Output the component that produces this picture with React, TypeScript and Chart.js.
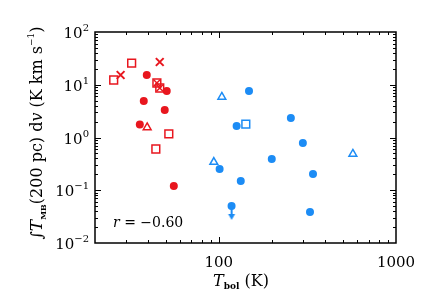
import { useEffect, useRef } from 'react';
import { Chart, registerables } from 'chart.js';

Chart.register(...registerables);

// ---- data (T_bol in K, integrated intensity in K km/s) ----
const redCircleX = [39.2, 50.8, 37.7, 49.5, 35.8, 55.7];
const redCircleY = [15.3, 7.61, 4.92, 3.32, 1.76, 0.12];
const redSquareX = [25.5, 32.2, 44.7, 46.4, 52.2, 44.1];
const redSquareY = [12.3, 25.8, 10.8, 8.68, 1.17, 0.605];
const redCrossX = [27.9, 46.4];
const redCrossY = [15.3, 27.0];
const redInnerCrossX = [44.7, 46.4];
const redInnerCrossY = [10.8, 8.68];
const redTriangleX = [39.4];
const redTriangleY = [1.55];

const blueCircleX = [148, 126, 255, 298, 101, 133, 118, 199, 340, 327];
const blueCircleY = [7.61, 1.65, 2.34, 0.787, 0.253, 0.15, 0.0503, 0.391, 0.203, 0.0387];
const blueSquareX = [142];
const blueSquareY = [1.8];
const blueTriangleX = [104, 93.7, 571];
const blueTriangleY = [5.86, 0.343, 0.487];
const blueLimitX = [118];
const blueLimitY = [0.0503];

const xMajor = [100, 1000];
const xTickLabels = ['100', '1000'];
const yMajor = [0.01, 0.1, 1, 10, 100];
const yExponents = ['\u22122', '\u22121', '0', '1', '2'];
const corrText = '\u22120.60';

const RED = 'rgb(232,22,30)';
const BLUE = 'rgb(28,140,245)';
const SERIF = '"DejaVu Serif", "Liberation Serif", serif';

function pts(xs: number[], ys: number[]) {
  return xs.map((x, i) => ({ x, y: ys[i] }));
}

function makeArrow(color: string): HTMLCanvasElement {
  const c = document.createElement('canvas');
  c.width = 12;
  c.height = 34;
  const g = c.getContext('2d')!;
  g.strokeStyle = color;
  g.fillStyle = color;
  g.lineWidth = 2;
  g.beginPath();
  g.moveTo(6, 16);
  g.lineTo(6, 28);
  g.stroke();
  g.beginPath();
  g.moveTo(2.5, 25);
  g.lineTo(9.5, 25);
  g.lineTo(6, 31);
  g.closePath();
  g.fill();
  return c;
}

type Seg = { t: string; font: string; dy: number };

function drawSegs(ctx: CanvasRenderingContext2D, x: number, y: number, segs: Seg[], align: 'left' | 'center' | 'right') {
  let w = 0;
  for (const s of segs) {
    ctx.font = s.font;
    w += ctx.measureText(s.t).width;
  }
  let cx = align === 'right' ? x - w : align === 'center' ? x - w / 2 : x;
  ctx.textAlign = 'left';
  for (const s of segs) {
    ctx.font = s.font;
    ctx.fillText(s.t, cx, y + s.dy);
    cx += ctx.measureText(s.t).width;
  }
}

const framePlugin = {
  id: 'frame',
  afterDraw(chart: any) {
    const ctx: CanvasRenderingContext2D = chart.ctx;
    const { left, right, top, bottom } = chart.chartArea;
    const xs = chart.scales.x;
    const ys = chart.scales.y;
    ctx.save();
    ctx.strokeStyle = '#000';
    ctx.fillStyle = '#000';
    ctx.lineWidth = 1.5;
    ctx.strokeRect(left, top, right - left, bottom - top);

    ctx.lineWidth = 1;
    // x ticks
    for (let d = 10; d < 1000; d *= 10) {
      for (let m = 1; m <= 9; m++) {
        const v = d * m;
        if (v <= 20 || v >= 1000) continue;
        const px = Math.round(xs.getPixelForValue(v)) + 0.5;
        const len = m === 1 ? 6 : 3;
        ctx.beginPath();
        ctx.moveTo(px, bottom);
        ctx.lineTo(px, bottom - len);
        ctx.moveTo(px, top);
        ctx.lineTo(px, top + len);
        ctx.stroke();
      }
    }
    // y ticks
    for (let d = 0.01; d < 100; d *= 10) {
      for (let m = 1; m <= 9; m++) {
        const v = d * m;
        if (v <= 0.0100001 || v >= 99.999) continue;
        const py = Math.round(ys.getPixelForValue(v)) + 0.5;
        const len = m === 1 ? 6 : 3;
        ctx.beginPath();
        ctx.moveTo(left, py);
        ctx.lineTo(left + len, py);
        ctx.moveTo(right, py);
        ctx.lineTo(right - len, py);
        ctx.stroke();
      }
    }

    // x tick labels
    ctx.textBaseline = 'alphabetic';
    xMajor.forEach((v, i) => {
      const px = xs.getPixelForValue(v);
      drawSegs(ctx, px, 267, [{ t: xTickLabels[i], font: `15px ${SERIF}`, dy: 0 }], 'center');
    });
    // y tick labels
    yMajor.forEach((v, i) => {
      const py = ys.getPixelForValue(v);
      drawSegs(
        ctx,
        89,
        py + 6,
        [
          { t: '10', font: `15px ${SERIF}`, dy: 0 },
          { t: yExponents[i], font: `10px ${SERIF}`, dy: -7 },
        ],
        'right'
      );
    });

    // x title
    drawSegs(
      ctx,
      241,
      286,
      [
        { t: 'T', font: `italic 16px ${SERIF}`, dy: 0 },
        { t: 'bol', font: `bold 9px ${SERIF}`, dy: 3 },
        { t: ' (K)', font: `16px ${SERIF}`, dy: 0 },
      ],
      'center'
    );

    // y title
    ctx.save();
    ctx.translate(42, 133);
    ctx.rotate(-Math.PI / 2);
    drawSegs(
      ctx,
      0,
      0,
      [
        { t: '\u222B', font: `16px ${SERIF}`, dy: 0 },
        { t: 'T', font: `italic 17px ${SERIF}`, dy: 0 },
        { t: 'MB', font: `bold 8px ${SERIF}`, dy: 4 },
        { t: '(200 pc) d', font: `16px ${SERIF}`, dy: 0 },
        { t: 'v', font: `italic 16px ${SERIF}`, dy: 0 },
        { t: ' (K km s', font: `16px ${SERIF}`, dy: 0 },
        { t: '\u22121', font: `9px ${SERIF}`, dy: -8 },
        { t: ')', font: `16px ${SERIF}`, dy: 0 },
      ],
      'center'
    );
    ctx.restore();

    // correlation text
    drawSegs(
      ctx,
      113,
      227,
      [
        { t: 'r', font: `italic 14px ${SERIF}`, dy: 0 },
        { t: ' = ' + corrText, font: `14px ${SERIF}`, dy: 0 },
      ],
      'left'
    );
    ctx.restore();
  },
};

export default function App() {
  const ref = useRef<HTMLCanvasElement | null>(null);
  useEffect(() => {
    if (!ref.current) return;
    const arrow = makeArrow(BLUE);
    const common = { showLine: false };
    const chart = new Chart(ref.current, {
      type: 'scatter',
      data: {
        datasets: [
          { ...common, data: pts(blueLimitX, blueLimitY), pointStyle: arrow as any, pointRadius: 6, pointBackgroundColor: BLUE, pointBorderColor: BLUE },
          { ...common, data: pts(redCircleX, redCircleY), pointStyle: 'circle', pointRadius: 4, pointBackgroundColor: RED, pointBorderColor: RED, pointBorderWidth: 0 },
          { ...common, data: pts(redSquareX, redSquareY), pointStyle: 'rect', pointRadius: 5.5, pointBackgroundColor: 'rgba(0,0,0,0)', pointBorderColor: RED, pointBorderWidth: 1.5 },
          { ...common, data: pts(redCrossX, redCrossY), pointStyle: 'crossRot', pointRadius: 5.5, pointBorderColor: RED, pointBorderWidth: 2 },
          { ...common, data: pts(redInnerCrossX, redInnerCrossY), pointStyle: 'crossRot', pointRadius: 4.5, pointBorderColor: RED, pointBorderWidth: 1.5 },
          { ...common, data: pts(redTriangleX, redTriangleY), pointStyle: 'triangle', pointRadius: 4.5, pointBackgroundColor: 'rgba(0,0,0,0)', pointBorderColor: RED, pointBorderWidth: 1.5 },
          { ...common, data: pts(blueCircleX, blueCircleY), pointStyle: 'circle', pointRadius: 4, pointBackgroundColor: BLUE, pointBorderColor: BLUE, pointBorderWidth: 0 },
          { ...common, data: pts(blueSquareX, blueSquareY), pointStyle: 'rect', pointRadius: 5.5, pointBackgroundColor: 'rgba(0,0,0,0)', pointBorderColor: BLUE, pointBorderWidth: 1.5 },
          { ...common, data: pts(blueTriangleX, blueTriangleY), pointStyle: 'triangle', pointRadius: 4.5, pointBackgroundColor: 'rgba(0,0,0,0)', pointBorderColor: BLUE, pointBorderWidth: 1.5 },
        ],
      },
      options: {
        animation: false,
        responsive: false,
        devicePixelRatio: 1,
        layout: { padding: { left: 95, right: 29, top: 32, bottom: 61 } },
        plugins: { legend: { display: false }, tooltip: { enabled: false } },
        scales: {
          x: { type: 'logarithmic', min: 20, max: 1000, display: false },
          y: { type: 'logarithmic', min: 0.01, max: 100, display: false },
        },
      },
      plugins: [framePlugin],
    });
    return () => chart.destroy();
  }, []);
  return (
    <div style={{ position: 'absolute', left: 0, top: 0, width: 425, height: 304, background: '#fff' }}>
      <canvas ref={ref} width={425} height={304} />
    </div>
  );
}
